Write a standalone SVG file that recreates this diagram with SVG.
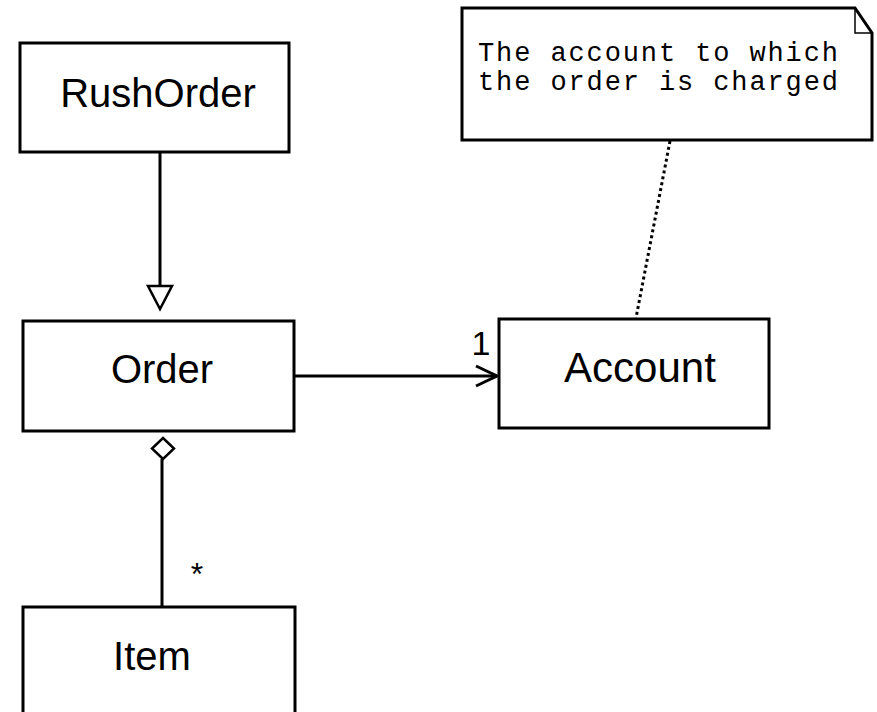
<svg xmlns="http://www.w3.org/2000/svg" width="877" height="712" viewBox="0 0 877 712">
<style>
.box{fill:#fff;stroke:#000;stroke-width:3}
.lbl{font-family:"Liberation Sans",Arial,sans-serif;font-size:40px;fill:#000;text-anchor:middle}
.note{font-family:"Liberation Mono","Courier New",monospace;font-size:27px;fill:#000}
.ln{fill:none;stroke:#000;stroke-width:3}
</style>
<rect width="877" height="712" fill="#fff"/>
<g id="connectors">
<line class="ln" x1="160" y1="152" x2="160" y2="286"/>
<polygon points="148,286 172,286 160,309" fill="#fff" stroke="#000" stroke-width="2.5" stroke-linejoin="miter"/>
<line class="ln" x1="294" y1="376" x2="497" y2="376"/>
<polyline class="ln" points="476,366 497,376 476,386"/>
<text x="481" y="355" style="font-family:'Liberation Sans',Arial,sans-serif;font-size:34px;text-anchor:middle">1</text>
<line class="ln" x1="162" y1="459" x2="162" y2="607"/>
<polygon points="163,438 174,448.5 163,459 152,448.5" fill="#fff" stroke="#000" stroke-width="2.5"/>
<text x="197" y="585" style="font-family:'Liberation Sans',Arial,sans-serif;font-size:32px;text-anchor:middle">*</text>
<line x1="670" y1="141" x2="636" y2="318" stroke="#000" stroke-width="3" stroke-dasharray="3 3"/>
</g>
<g id="RushOrder">
<rect class="box" x="20" y="43" width="269" height="109"/>
<text class="lbl" x="158" y="107">RushOrder</text>
</g>
<g id="Order">
<rect class="box" x="23" y="321" width="271" height="110"/>
<text class="lbl" x="162" y="383">Order</text>
</g>
<g id="Account">
<rect class="box" x="499" y="319" width="270" height="109"/>
<text class="lbl" x="640" y="382" style="font-size:42px">Account</text>
</g>
<g id="Item">
<rect class="box" x="23" y="607" width="272" height="120"/>
<text class="lbl" x="152" y="670">Item</text>
</g>
<g id="note">
<path d="M462,8 L855,8 L872,33 L872,140 L462,140 Z" fill="#fff" stroke="#000" stroke-width="3"/>
<path d="M855,8 L855,33 L872,33" fill="none" stroke="#000" stroke-width="1.5"/>
<text class="note" x="478" y="61" textLength="360" lengthAdjust="spacing">The account to which</text>
<text class="note" x="478" y="90" textLength="360" lengthAdjust="spacing">the order is charged</text>
</g>
</svg>
